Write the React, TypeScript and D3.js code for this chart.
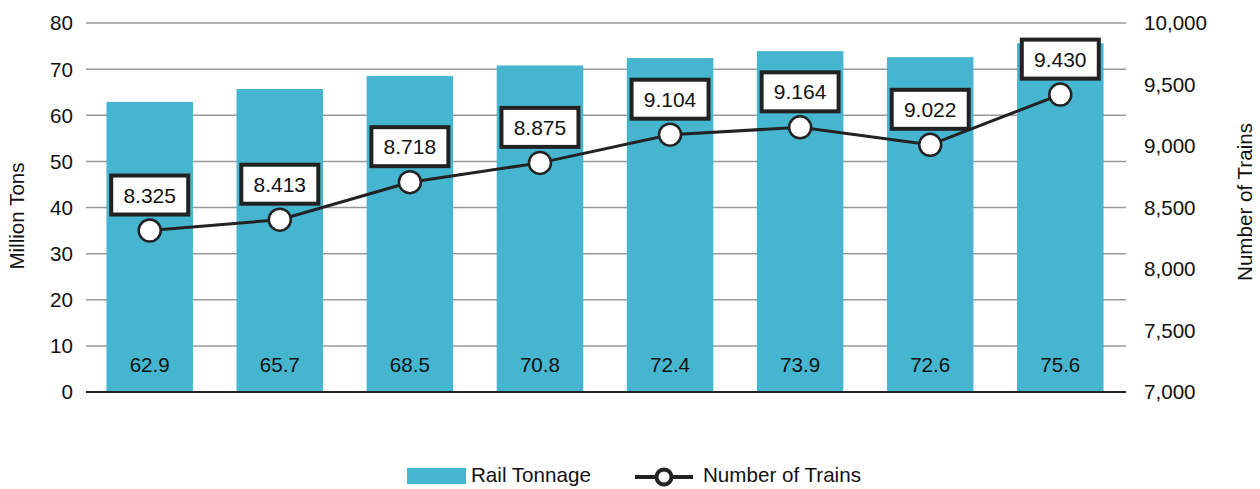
import React from "react";
import * as d3 from "d3";

const years = ["1", "2", "3", "4", "5", "6", "7", "8"];
const tonnage = [62.9, 65.7, 68.5, 70.8, 72.4, 73.9, 72.6, 75.6];
const trains = [8325, 8413, 8718, 8875, 9104, 9164, 9022, 9430];
const trainLabels = ["8.325", "8.413", "8.718", "8.875", "9.104", "9.164", "9.022", "9.430"];
const leftTicks = [0, 10, 20, 30, 40, 50, 60, 70, 80];
const rightTicks = [7000, 7500, 8000, 8500, 9000, 9500, 10000];

const W = 1260, H = 489;
const plotL = 86, plotR = 1126, plotT = 23, plotB = 392;
const font = "'Liberation Sans', Arial, Helvetica, sans-serif";
const barColor = "#46B5D0";
const dark = "#222";
const fs = 20.6;

export default function App() {
  const x = d3.scaleBand<string>().domain(years).range([plotL - 1, plotR - 1]).paddingInner(0.335).paddingOuter(0.165);
  const yL = d3.scaleLinear().domain([0, 80]).range([plotB, plotT]);
  const yR = d3.scaleLinear().domain([7000, 10000]).range([plotB, plotT]);
  const cx = (i: number) => (x(years[i]) as number) + x.bandwidth() / 2;
  const cy = (v: number) => yR(v) + 1.5;
  const line = d3.line<number>().x((_, i) => cx(i)).y((d) => cy(d));
  const fmt = d3.format(",");
  const boxW = 77, boxH = 39;

  return (
    <svg width={W} height={H} style={{ position: "absolute", left: 0, top: 0 }} fontFamily={font}>
      <rect width={W} height={H} fill="#fff" />
      {leftTicks.slice(1).map((t) => (
        <line key={t} x1={plotL} x2={plotR} y1={yL(t)} y2={yL(t)} stroke="#999" strokeWidth={1.5} />
      ))}
      {tonnage.map((v, i) => (
        <rect key={i} x={x(years[i])} y={yL(v)} width={x.bandwidth()} height={plotB - yL(v)} fill={barColor} />
      ))}
      <line x1={plotL} x2={plotR} y1={plotB} y2={plotB} stroke={dark} strokeWidth={2} />
      {tonnage.map((v, i) => (
        <text key={i} x={cx(i)} y={372} textAnchor="middle" fontSize={fs} fill="#111">{v.toFixed(1)}</text>
      ))}
      {leftTicks.map((t) => (
        <text key={t} x={73} y={yL(t)} dy="0.36em" textAnchor="end" fontSize={fs} fill="#111">{t}</text>
      ))}
      {rightTicks.map((t) => (
        <text key={t} x={1144} y={yR(t)} dy="0.36em" textAnchor="start" fontSize={fs} fill="#111">{fmt(t)}</text>
      ))}
      <text transform={`translate(24,216) rotate(-90)`} textAnchor="middle" fontSize={fs} fill="#111">Million Tons</text>
      <text transform={`translate(1252,202) rotate(-90)`} textAnchor="middle" fontSize={fs} fill="#111">Number of Trains</text>
      <path d={line(trains) || ""} fill="none" stroke={dark} strokeWidth={3} />
      {trains.map((v, i) => (
        <g key={i}>
          <circle cx={cx(i)} cy={cy(v)} r={11} fill="#fff" stroke={dark} strokeWidth={2.5} />
          <rect x={cx(i) - boxW / 2} y={cy(v) - 16 - boxH} width={boxW} height={boxH} fill="#fff" stroke={dark} strokeWidth={4} />
          <text x={cx(i)} y={cy(v) - 16 - boxH / 2} dy="0.36em" textAnchor="middle" fontSize={21} fill="#111">{trainLabels[i]}</text>
        </g>
      ))}
      <rect x={407} y={468} width={59} height={16} fill={barColor} />
      <text x={471} y={482} fontSize={fs} fill="#111">Rail Tonnage</text>
      <line x1={635} x2={693} y1={477} y2={477} stroke={dark} strokeWidth={4} />
      <circle cx={664} cy={477} r={7.5} fill="#fff" stroke={dark} strokeWidth={4} />
      <text x={703} y={482} fontSize={fs} fill="#111">Number of Trains</text>
    </svg>
  );
}
